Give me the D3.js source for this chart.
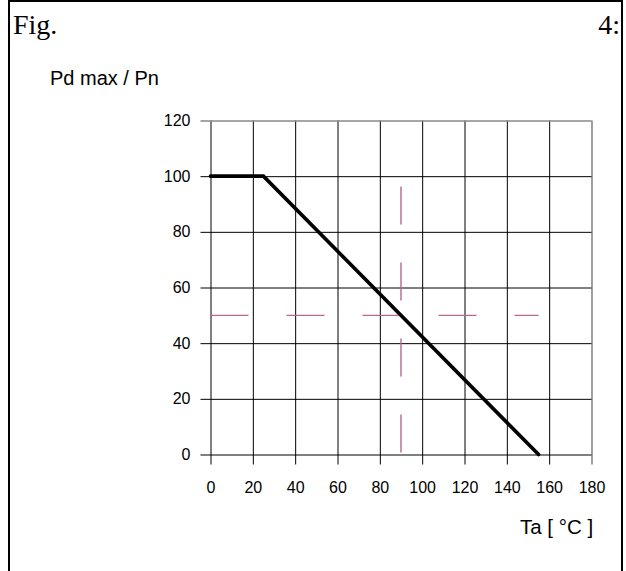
<!DOCTYPE html>
<html>
<head>
<meta charset="utf-8">
<script src="https://cdn.jsdelivr.net/npm/d3@7"></script>
<style>
  html, body { margin: 0; padding: 0; background: #fff; }
  svg { display: block; }
  text { font-family: "Liberation Sans", Arial, sans-serif; fill: #000; }
</style>
</head>
<body>
<svg id="chart" width="626" height="571"></svg>
<script>
// Derating curve: maximum power dissipation vs ambient temperature
const tempPoints = [0, 25, 155];        // Ta [°C]
const powerPoints = [100, 100, 0];      // Pd max / Pn [%]
const xTicks = [0, 20, 40, 60, 80, 100, 120, 140, 160, 180];
const yTicks = [0, 20, 40, 60, 80, 100, 120];
// Reference cross marking the mid-point of the derating slope
const crossX = [90, 90];
const crossXSpan = [0, 96.3];
const crossY = [50, 50];
const crossYSpan = [0, 155];

const svg = d3.select("#chart");

// Outer frame (open at the bottom)
svg.append("path")
  .attr("d", "M9,571 V1 H622 V571")
  .attr("fill", "none")
  .attr("stroke", "#000")
  .attr("stroke-width", 2);

svg.append("text")
  .attr("x", 13).attr("y", 34)
  .style("font-family", "'Liberation Serif', 'Times New Roman', serif")
  .style("font-size", "28px")
  .text("Fig.");
svg.append("text")
  .attr("x", 620).attr("y", 34)
  .attr("text-anchor", "end")
  .style("font-family", "'Liberation Serif', 'Times New Roman', serif")
  .style("font-size", "28px")
  .text("4:");

svg.append("text")
  .attr("x", 50).attr("y", 85)
  .style("font-size", "20px")
  .text("Pd max / Pn");

svg.append("text")
  .attr("x", 520).attr("y", 534)
  .style("font-size", "20.5px")
  .text("Ta [ °C ]");

const x = d3.scaleLinear().domain([0, 180]).range([210.5, 591.5]);
const y = d3.scaleLinear().domain([0, 120]).range([454.5, 120.5]);
const plotH = y(0) - y(120);
const plotW = x(180) - x(0);

// X axis with full-height grid lines
const gx = svg.append("g")
  .attr("transform", `translate(0,${y(0)})`)
  .call(d3.axisBottom(x).tickValues(xTicks).tickSize(10).tickSizeOuter(0).tickPadding(17));
gx.select(".domain").remove();
gx.selectAll(".tick line")
  .attr("y1", -plotH)
  .attr("stroke", "#000")
  .attr("stroke-width", 1);
gx.selectAll(".tick text")
  .style("font-size", "16px")
  .style("font-family", "'Liberation Sans', Arial, sans-serif")
  .attr("fill", "#000");

// Y axis with full-width grid lines
const gy = svg.append("g")
  .attr("transform", `translate(${x(0)},0)`)
  .call(d3.axisLeft(y).tickValues(yTicks).tickSize(10).tickSizeOuter(0).tickPadding(10));
gy.select(".domain").remove();
gy.selectAll(".tick line")
  .attr("x2", plotW)
  .attr("x1", -10)
  .attr("stroke", "#000")
  .attr("stroke-width", 1);
gy.selectAll(".tick text")
  .style("font-size", "16px")
  .style("font-family", "'Liberation Sans', Arial, sans-serif")
  .attr("fill", "#000");

// Top and right edges of the plot area are drawn grey
gy.selectAll(".tick").filter(d => d === 120).select("line")
  .attr("stroke", "#888").attr("stroke-width", 1.6);
gx.selectAll(".tick").filter(d => d === 180).select("line")
  .attr("stroke", "#888").attr("stroke-width", 1.6);

// Dashed reference cross
const crossColor = "#b5698f";
svg.append("line")
  .attr("x1", x(crossX[0])).attr("x2", x(crossX[1]))
  .attr("y1", y(crossXSpan[1])).attr("y2", y(crossXSpan[0]))
  .attr("stroke", crossColor).attr("stroke-width", 1.4)
  .attr("stroke-dasharray", "38,38");
svg.append("line")
  .attr("x1", x(crossYSpan[0])).attr("x2", x(crossYSpan[1]))
  .attr("y1", y(crossY[0])).attr("y2", y(crossY[1]))
  .attr("stroke", crossColor).attr("stroke-width", 1.4)
  .attr("stroke-dasharray", "38,38");

// Derating curve
const line = d3.line().x(d => x(d[0])).y(d => y(d[1]));
svg.append("path")
  .datum(d3.zip(tempPoints, powerPoints))
  .attr("d", line)
  .attr("fill", "none")
  .attr("stroke", "#000")
  .attr("stroke-width", 3.6)
  .attr("stroke-linejoin", "miter")
  .attr("stroke-linecap", "round");
</script>
</body>
</html>
